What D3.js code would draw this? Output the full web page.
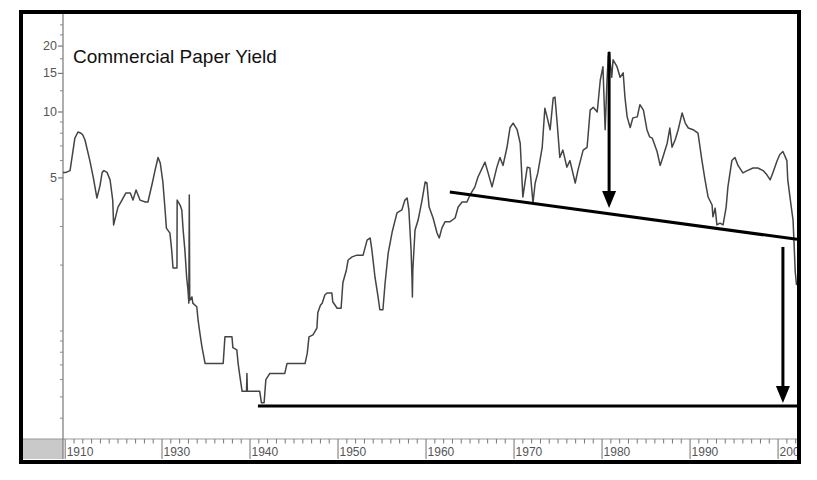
<!DOCTYPE html>
<html>
<head>
<meta charset="utf-8">
<script src="https://cdn.jsdelivr.net/npm/d3@7/dist/d3.min.js"></script>
<style>
  html, body { margin: 0; padding: 0; background: #fff; }
  svg { display: block; font-family: "Liberation Sans", Arial, Helvetica, sans-serif; }
</style>
</head>
<body>
<svg id="chart" width="817" height="480"></svg>
<script>
// ---- data ----
const years = [
  1918.75,1919.1,1919.55,1920.1,1920.45,1920.8,1921.0,1921.25,1921.8,1922.2,1922.6,1922.95,1923.2,1923.4,1923.75,1924.1,1924.4,1924.5,
  1925.0,1925.45,1925.9,1926.4,1926.7,1927.05,1927.5,1928.1,1928.4,1928.9,1929.2,1929.55,1929.8,1930.1,1930.35,1930.5,1930.9,1931.1,
  1931.25,1931.7,1931.72,1932.05,1932.25,1932.4,1932.6,1932.8,1932.95,1933.05,1933.1,1933.15,1933.4,1933.5,1933.95,1934.1,1934.3,1934.55,
  1934.9,1936.95,1937.15,1937.95,1938.05,1938.5,1938.65,1938.85,1939.1,1939.6,1939.65,1939.7,1941.1,1941.3,1941.6,1941.8,1942.25,1943.95,
  1944.2,1946.25,1946.5,1946.7,1947.15,1947.6,1947.7,1948.0,1948.2,1948.5,1948.75,1949.3,1949.4,1949.9,1950.35,1950.55,1950.95,1951.15,
  1951.6,1952.15,1952.85,1953.3,1953.65,1953.85,1954.2,1954.55,1954.75,1955.1,1955.35,1955.7,1956.15,1956.7,1957.25,1957.6,1957.85,1958.05,
  1958.3,1958.4,1958.45,1958.5,1958.75,1959.1,1959.55,1959.9,1960.1,1960.35,1960.8,1961.25,1961.5,1961.8,1962.15,1962.7,1963.3,1963.65,
  1964.1,1964.65,1965.0,1965.55,1965.9,1966.7,1967.05,1967.5,1968.05,1968.4,1968.75,1969.2,1969.55,1969.9,1970.35,1970.7,1971.0,1971.5,
  1971.8,1972.15,1972.4,1972.7,1973.2,1973.5,1973.75,1974.1,1974.45,1974.65,1974.9,1975.2,1975.55,1976.0,1976.35,1976.95,1977.25,1977.85,
  1978.3,1978.65,1979.0,1979.45,1979.8,1980.1,1980.35,1980.55,1980.7,1980.8,1981.1,1981.25,1981.7,1982.05,1982.4,1982.6,1982.85,1983.2,
  1983.5,1984.0,1984.3,1984.7,1985.1,1985.4,1985.7,1986.25,1986.6,1986.9,1987.4,1987.7,1987.95,1988.3,1988.65,1989.1,1989.45,1989.8,
  1990.35,1990.9,1991.35,1991.7,1992.05,1992.5,1992.6,1992.85,1993.05,1993.4,1993.75,1994.1,1994.3,1994.75,1995.1,1995.45,1996.0,1996.5,
  1997.15,1997.7,1998.3,1998.75,1999.1,1999.4,1999.9,2000.2,2000.55,2001.0,2001.1,2001.5,2001.7,2001.8,2001.95,2002.1
];
const yields = [
  5.3,5.3,5.4,7.6,8.1,8.0,7.85,7.45,6.0,5.0,4.05,4.6,5.3,5.4,5.3,4.9,3.96,3.05,
  3.68,3.96,4.27,4.27,3.96,4.4,3.96,3.88,3.88,4.74,5.4,6.2,5.85,4.78,3.57,2.95,2.8,2.34,
  1.94,1.94,3.96,3.76,3.57,2.89,2.34,1.76,1.54,1.34,4.18,1.38,1.43,1.34,1.29,1.12,0.98,0.84,
  0.71,0.71,0.94,0.94,0.84,0.82,0.71,0.62,0.53,0.53,0.64,0.53,0.53,0.47,0.47,0.6,0.64,0.64,
  0.71,0.71,0.79,0.94,0.96,1.03,1.21,1.31,1.34,1.46,1.49,1.49,1.36,1.27,1.27,1.66,1.9,2.11,
  2.18,2.22,2.22,2.6,2.66,2.34,1.76,1.43,1.25,1.25,1.66,2.27,2.83,3.46,3.57,3.96,4.05,3.57,
  2.34,1.76,1.43,1.9,2.89,3.21,3.96,4.79,4.74,3.68,3.28,2.8,2.66,2.95,3.15,3.15,3.28,3.68,
  3.88,3.88,4.18,4.55,5.05,5.9,5.27,4.55,5.6,6.2,5.7,6.9,8.5,8.9,8.3,7.2,4.09,5.6,
  5.55,3.84,4.74,5.27,6.9,10.4,9.5,8.3,11.6,11.7,8.9,6.2,6.7,5.6,6.0,4.74,5.4,6.7,
  6.9,10.2,10.5,10.0,14.0,16.1,8.3,13.6,17.8,18.8,14.4,17.3,16.1,14.4,15.1,11.7,9.5,8.5,
  9.4,9.5,10.8,10.2,8.3,7.7,7.6,6.6,5.7,6.2,7.2,8.45,6.9,7.45,8.3,9.9,8.9,8.45,
  8.3,8.0,6.0,4.9,4.09,3.76,3.32,3.64,3.05,3.11,3.05,3.68,4.55,6.0,6.2,5.7,5.27,5.4,
  5.55,5.55,5.4,5.15,4.9,5.27,6.0,6.4,6.6,6.0,4.9,3.68,3.21,2.6,1.86,1.62
];

const xTickYears  = [1919, 1930, 1940, 1950, 1960, 1970, 1980, 1990, 2000];
const xTickLabels = ["1910", "1930", "1940", "1950", "1960", "1970", "1980", "1990", "2000"];
const xMinorYears = d3.range(1920, 2003);
const yTickValues = [5, 10, 15, 20];
const yMinorValues = [0.4,0.5,0.6,0.7,0.8,0.9,1,2,3,4,6,7,8,9,12.5,17.5,22.5,25];

const chartLabel = "Commercial Paper Yield";

// trendlines and arrows (year, yield)
const supportLineYears = [1940.9, 2002.15];
const supportLineYields = [0.455, 0.455];
const slopeLineYears = [1962.7, 2002.15];
const slopeLineYields = [4.31, 2.62];
const arrowYears = [1980.8, 2000.55];
const arrowFrom = [18.8, 2.42];
const arrowTo = [3.64, 0.469];

// ---- drawing ----
const svg = d3.select("#chart");
const plot = { left: 63, right: 797, top: 17, bottom: 438 };

const x = d3.scaleLinear().domain([1918.75, 2002.15]).range([plot.left, plot.right]);
const y = d3.scaleLog().domain([0.3246, 27.15]).range([plot.bottom, plot.top]);

svg.append("rect").attr("width", 817).attr("height", 480).attr("fill", "#fff");

const defs = svg.append("defs");
defs.append("clipPath").attr("id", "plotclip")
  .append("rect").attr("x", plot.left).attr("y", 14).attr("width", plot.right - plot.left).attr("height", plot.bottom - 14);
defs.append("clipPath").attr("id", "axisclip")
  .append("rect").attr("x", plot.left).attr("y", 438).attr("width", plot.right - plot.left).attr("height", 24);

// bottom axis strip
svg.append("rect").attr("x", 22).attr("y", 439).attr("width", 41).attr("height", 20).attr("fill", "#c9c9c9");
svg.append("line").attr("x1", 22).attr("x2", plot.right).attr("y1", 439).attr("y2", 439)
  .attr("stroke", "#9a9a9a").attr("stroke-width", 1.2);

const xAxisG = svg.append("g").attr("clip-path", "url(#axisclip)");
xAxisG.selectAll("line.minor").data(xMinorYears.filter(v => !xTickYears.includes(v))).join("line")
  .attr("class", "minor")
  .attr("x1", d => x(d)).attr("x2", d => x(d))
  .attr("y1", 439).attr("y2", 443.5)
  .attr("stroke", "#777").attr("stroke-width", 1);
xAxisG.selectAll("line.major").data(xTickYears).join("line")
  .attr("class", "major")
  .attr("x1", d => x(d)).attr("x2", d => x(d))
  .attr("y1", 439).attr("y2", 459)
  .attr("stroke", "#888").attr("stroke-width", 1.2);
xAxisG.selectAll("text").data(xTickYears).join("text")
  .attr("x", d => x(d) + 1.5).attr("y", 456)
  .attr("font-size", 12).attr("fill", "#555")
  .text((d, i) => xTickLabels[i]);

// y axis
svg.append("line").attr("x1", plot.left).attr("x2", plot.left).attr("y1", 14).attr("y2", 459)
  .attr("stroke", "#777").attr("stroke-width", 1.2);
svg.selectAll("line.yminor").data(yMinorValues).join("line")
  .attr("class", "yminor")
  .attr("x1", plot.left - 3).attr("x2", plot.left)
  .attr("y1", d => y(d)).attr("y2", d => y(d))
  .attr("stroke", "#888").attr("stroke-width", 1);
svg.selectAll("line.ymajor").data(yTickValues).join("line")
  .attr("class", "ymajor")
  .attr("x1", plot.left - 5).attr("x2", plot.left)
  .attr("y1", d => y(d)).attr("y2", d => y(d))
  .attr("stroke", "#777").attr("stroke-width", 1.2);
svg.selectAll("text.ylab").data(yTickValues).join("text")
  .attr("class", "ylab")
  .attr("x", plot.left - 6).attr("y", d => y(d) + 4)
  .attr("text-anchor", "end").attr("font-size", 12.5).attr("fill", "#555")
  .text(d => d);

// data series
const pts = years.map((yr, i) => [yr, yields[i]]);
const line = d3.line().x(d => x(d[0])).y(d => y(d[1]));
const g = svg.append("g").attr("clip-path", "url(#plotclip)");
g.append("path").datum(pts)
  .attr("d", line).attr("fill", "none")
  .attr("stroke", "#444").attr("stroke-width", 1.5).attr("stroke-linejoin", "round");

// trendlines
g.append("line")
  .attr("x1", x(supportLineYears[0])).attr("x2", x(supportLineYears[1]))
  .attr("y1", y(supportLineYields[0])).attr("y2", y(supportLineYields[1]))
  .attr("stroke", "#000").attr("stroke-width", 3);
g.append("line")
  .attr("x1", x(slopeLineYears[0])).attr("x2", x(slopeLineYears[1]))
  .attr("y1", y(slopeLineYields[0])).attr("y2", y(slopeLineYields[1]))
  .attr("stroke", "#000").attr("stroke-width", 3);

// arrows
arrowYears.forEach((yr, i) => {
  const ax = x(yr), y0 = y(arrowFrom[i]), y1 = y(arrowTo[i]);
  g.append("line").attr("x1", ax).attr("x2", ax).attr("y1", y0).attr("y2", y1 - 12)
    .attr("stroke", "#000").attr("stroke-width", 3);
  g.append("path")
    .attr("d", `M${ax - 7},${y1 - 17} L${ax + 7},${y1 - 17} L${ax},${y1} Z`)
    .attr("fill", "#000");
});

// label
svg.append("text").attr("x", 73).attr("y", 63)
  .attr("font-size", 19).attr("fill", "#111")
  .text(chartLabel);

// outer frame
svg.append("rect").attr("x", 21).attr("y", 12).attr("width", 778).attr("height", 450)
  .attr("fill", "none").attr("stroke", "#000").attr("stroke-width", 4);
</script>
</body>
</html>
